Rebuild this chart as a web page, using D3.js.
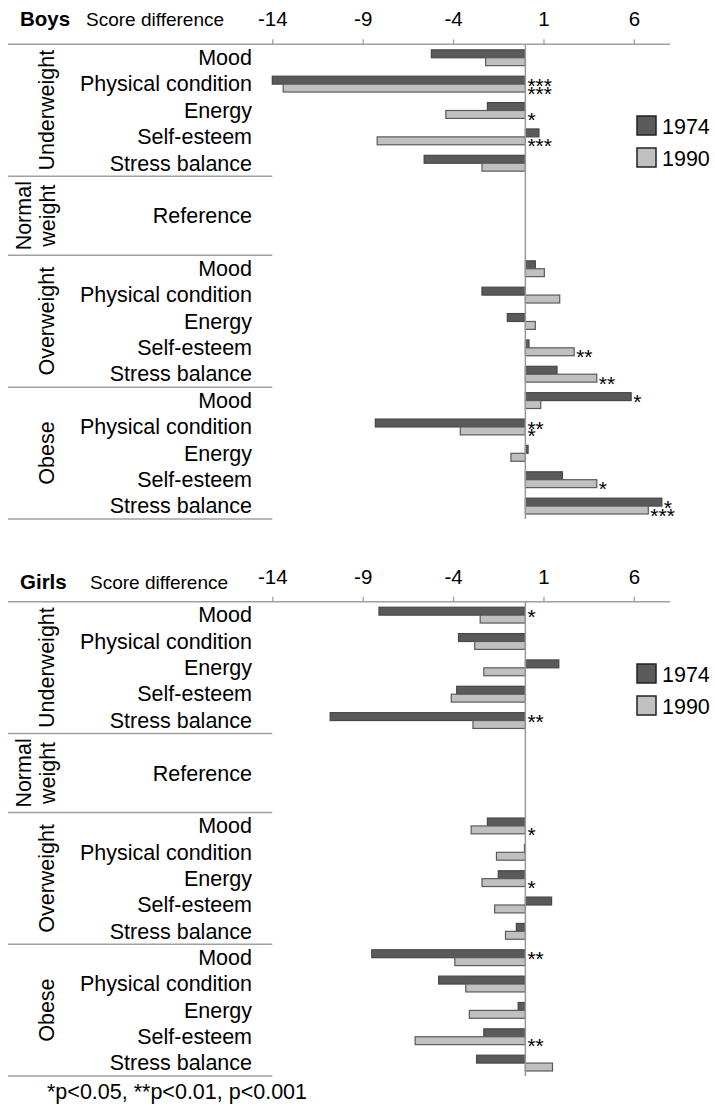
<!DOCTYPE html>
<html>
<head>
<meta charset="utf-8">
<script src="https://cdn.jsdelivr.net/npm/d3@7"></script>
<style>
  body { margin: 0; background: #fff; }
  svg { font-family: "Liberation Sans", Arial, sans-serif; }
</style>
</head>
<body>
<svg id="chart" width="715" height="1116"></svg>
<script>
// row labels, top to bottom (normal weight takes 3 rows with "Reference" in the middle)
const measures = ["Mood", "Physical condition", "Energy", "Self-esteem", "Stress balance"]
const groups = ["Underweight", "Normal weight", "Overweight", "Obese"]
const groupRows = [5, 3, 5, 5]
const years = ["1974", "1990"]
const tickValues = [-14, -9, -4, 1, 6]

// score differences: underweight, overweight, obese (5 measures each)
const boys1974 = [-5.2, -14.0, -2.1, 0.75, -5.6,   0.55, -2.4, -1.0, 0.2, 1.75,   5.85, -8.3, 0.15, 2.05, 7.55]
const boys1990 = [-2.2, -13.4, -4.4, -8.2, -2.4,   1.05, 1.9, 0.55, 2.7, 3.95,   0.85, -3.6, -0.8, 3.95, 6.8]
const girls1974 = [-8.1, -3.7, 1.85, -3.8, -10.8,  -2.1, -0.05, -1.5, 1.45, -0.5,  -8.5, -4.8, -0.4, -2.3, -2.7]
const girls1990 = [-2.5, -2.8, -2.3, -4.1, -2.9,   -3.0, -1.6, -2.4, -1.7, -1.1,   -3.9, -3.3, -3.1, -6.1, 1.5]

// significance marks
const boysStars1974 = ["", "***", "", "", "",   "", "", "", "", "",   "*", "**", "", "", "*"]
const boysStars1990 = ["", "***", "*", "***", "",   "", "", "", "**", "**",   "", "*", "", "*", "***"]
const girlsStars1974 = ["*", "", "", "", "**",   "", "", "", "", "",   "**", "", "", "", ""]
const girlsStars1990 = ["", "", "", "", "",   "*", "", "*", "", "",   "", "", "", "**", ""]

const colors = { "1974": "#5a5a5a", "1990": "#c0c0c0" }
const strokes = { "1974": "#474747", "1990": "#5a5a5a" }

const svg = d3.select("#chart")
const x = d3.scaleLinear().domain([-14, 8]).range([272.3, 670])

// build the 18 rows
let rows = []
groups.forEach((g, gi) => {
    for (let i = 0; i < groupRows[gi]; i++) {
        let label = g == "Normal weight" ? (i == 1 ? "Reference" : "") : measures[i]
        rows.push({ id: g + i, group: g, label: label, measure: g == "Normal weight" ? -1 : i })
    }
})

function drawPanel(opts) {
    const y = d3.scaleBand().domain(rows.map(r => r.id)).range([opts.top, opts.bottom])
    const yy = d3.scaleBand().domain(years).range([y.bandwidth() * 0.21, y.bandwidth() * 0.81])
    const g = svg.append("g")

    // title
    g.append("text").attr("x", 20).attr("y", opts.titleY)
        .style("font-size", "20.5px").style("font-weight", "bold").text(opts.title)
    g.append("text").attr("x", opts.subX).attr("y", opts.titleY)
        .style("font-size", "19px").text("Score difference")

    // axis
    const axis = g.append("g").attr("transform", `translate(0,${opts.top})`)
        .call(d3.axisTop(x).tickValues(tickValues).tickFormat(d => String(d))
            .tickSize(5).tickSizeOuter(0).tickPadding(13))
    axis.select(".domain").remove()
    axis.selectAll(".tick line").attr("stroke", "#a0a0a0").attr("stroke-width", 1.3)
    axis.selectAll(".tick text").style("font-size", "20.5px").attr("fill", "#000")
    axis.attr("font-family", null)
    g.append("line").attr("x1", 8).attr("x2", 670).attr("y1", opts.top).attr("y2", opts.top)
        .attr("stroke", "#a0a0a0").attr("stroke-width", 1.5)

    // group separators
    let start = 0
    groups.forEach((grp, gi) => {
        start += groupRows[gi]
        let yEnd = opts.top + start * y.step()
        g.append("line").attr("x1", 8).attr("x2", x(-14)).attr("y1", yEnd).attr("y2", yEnd)
            .attr("stroke", "#a0a0a0").attr("stroke-width", 1.5)
        let yMid = yEnd - groupRows[gi] * y.step() / 2
        let t = g.append("text").attr("transform", `translate(46,${yMid}) rotate(-90)`)
            .attr("text-anchor", "middle").style("font-size", "21.5px")
        if (grp == "Normal weight") {
            t.append("tspan").attr("x", 0).attr("dy", "-0.7em").text("Normal")
            t.append("tspan").attr("x", 0).attr("dy", "1.1em").text("weight")
        } else {
            t.attr("dy", "0.35em").text(grp)
        }
    })

    // row labels
    g.selectAll(".rowlabel").data(rows).enter().append("text")
        .attr("x", 252).attr("y", d => y(d.id) + y.bandwidth() / 2).attr("dy", "0.35em")
        .attr("text-anchor", "end").style("font-size", "21.5px").text(d => d.label)

    // bars
    let barData = []
    rows.filter(r => r.measure >= 0).forEach(r => {
        let k = barData.length / 2
        years.forEach(yr => {
            barData.push({ row: r.id, year: yr, value: opts.values[yr][k], star: opts.stars[yr][k] })
        })
    })
    g.selectAll(".bar").data(barData).enter().append("rect")
        .attr("x", d => x(Math.min(0, d.value)))
        .attr("width", d => Math.abs(x(d.value) - x(0)))
        .attr("y", d => y(d.row) + yy(d.year))
        .attr("height", yy.bandwidth())
        .attr("fill", d => colors[d.year]).attr("stroke", d => strokes[d.year]).attr("stroke-width", 1.2)

    // zero line
    g.append("line").attr("x1", x(0)).attr("x2", x(0)).attr("y1", opts.top).attr("y2", opts.bottom)
        .attr("stroke", "#999").attr("stroke-width", 1.5)

    // stars
    g.selectAll(".star").data(barData.filter(d => d.star)).enter().append("text")
        .attr("x", d => x(Math.max(0, d.value)) + 2)
        .attr("y", d => y(d.row) + yy(d.year) + yy.bandwidth() / 2 + 12.5)
        .style("font-size", "21px").text(d => d.star)

    // legend
    years.forEach((yr, i) => {
        let ly = opts.legendY + i * 32
        g.append("rect").attr("x", 637).attr("y", ly).attr("width", 19).attr("height", 19)
            .attr("fill", colors[yr]).attr("stroke", "#222").attr("stroke-width", 1.5)
        g.append("text").attr("x", 662).attr("y", ly + 10).attr("dy", "0.35em")
            .style("font-size", "21.5px").text(yr)
    })
}

drawPanel({ title: "Boys", top: 44.3, bottom: 519, titleY: 26, subX: 86, legendY: 116,
    values: { "1974": boys1974, "1990": boys1990 }, stars: { "1974": boysStars1974, "1990": boysStars1990 } })
drawPanel({ title: "Girls", top: 601.7, bottom: 1076, titleY: 589, subX: 90, legendY: 664,
    values: { "1974": girls1974, "1990": girls1990 }, stars: { "1974": girlsStars1974, "1990": girlsStars1990 } })

svg.append("text").attr("x", 47).attr("y", 1099).style("font-size", "21.5px")
    .text("*p<0.05, **p<0.01, p<0.001")
</script>
</body>
</html>
